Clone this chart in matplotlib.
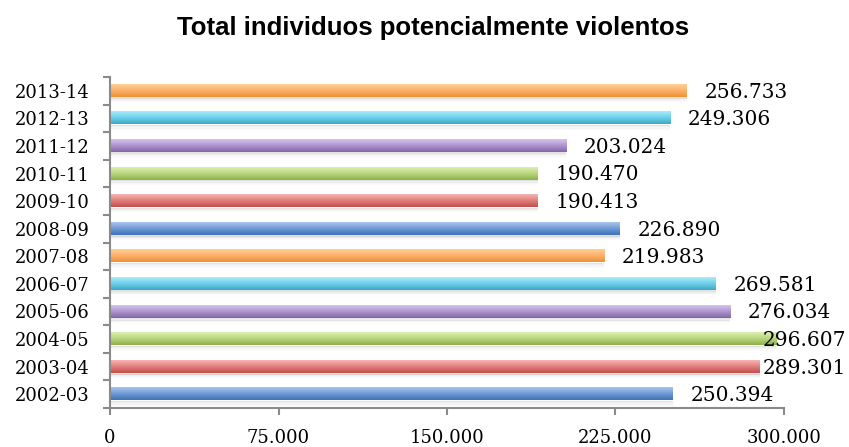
import numpy as np
import matplotlib
matplotlib.use("Agg")
import matplotlib.pyplot as plt
from matplotlib.colors import LinearSegmentedColormap
from matplotlib.ticker import FuncFormatter, FixedLocator

seasons = ["2002-03", "2003-04", "2004-05", "2005-06", "2006-07", "2007-08",
           "2008-09", "2009-10", "2010-11", "2011-12", "2012-13", "2013-14"]
totals = [250394, 289301, 296607, 276034, 269581, 219983,
          226890, 190413, 190470, 203024, 249306, 256733]

# top / middle / bottom shades per bar (Excel-like gradient), cycling
shades = [
    ("#aac6ef", "#6f9ad6", "#3f72b6"),  # blue
    ("#f6b5b3", "#e07f7c", "#c24e4b"),  # red
    ("#dcefb0", "#b8d67c", "#8fb04c"),  # green
    ("#d6c4ec", "#ad95cf", "#8466a8"),  # purple
    ("#a8ecfb", "#6fd0ea", "#3aa9c6"),  # cyan
    ("#ffcf98", "#fbb169", "#f28f36"),  # orange
]

fig = plt.figure(figsize=(8.49, 4.47), dpi=100)
ax = fig.add_axes([0.1296, 0.0872, 0.7938, 0.7405])

bar_h = 0.44
grad = np.linspace(0, 1, 64).reshape(-1, 1)
for i, (v, lab) in enumerate(zip(totals, seasons)):
    top, mid, bot = shades[i % len(shades)]
    cmap = LinearSegmentedColormap.from_list("b%d" % i, [top, mid, bot])
    # soft shadow below the bar
    for k, a in enumerate([0.20, 0.13, 0.07, 0.03]):
        ax.barh(i - bar_h / 2 - 0.04 - k * 0.045, v, height=0.05, left=0,
                color="#777777", alpha=a, lw=0, zorder=1)
    ax.imshow(grad, cmap=cmap, aspect="auto", interpolation="bilinear",
              extent=(0, v, i - bar_h / 2, i + bar_h / 2), zorder=2)
    x_lab = min(v + 8000, 290500)
    ax.text(x_lab, i - 0.05, f"{v:,.0f}".replace(",", "."), ha="left",
            va="center", family="DejaVu Serif", fontsize=14.5, zorder=3)

ax.set_xlim(0, 300000)
ax.set_ylim(-0.5, len(seasons) - 0.5)

ax.set_xticks([0, 75000, 150000, 225000, 300000])
ax.xaxis.set_major_formatter(FuncFormatter(lambda x, p: f"{x:,.0f}".replace(",", ".")))
ax.set_yticks(range(len(seasons)))
ax.set_yticklabels(seasons)
ax.yaxis.set_minor_locator(FixedLocator(np.arange(-0.5, len(seasons), 1.0)))

for lbl in ax.get_xticklabels() + ax.get_yticklabels():
    lbl.set_family("DejaVu Serif")
    lbl.set_fontsize(13)

ax.tick_params(axis="y", which="major", length=0, pad=15)
ax.tick_params(axis="y", which="minor", length=5, width=1.5, color="#8a8a8a")
ax.tick_params(axis="x", which="major", length=5, width=1.5, color="#8a8a8a", pad=10)

for s in ["top", "right"]:
    ax.spines[s].set_visible(False)
for s in ["left", "bottom"]:
    ax.spines[s].set_color("#8a8a8a")
    ax.spines[s].set_linewidth(1.5)

fig.text(0.51, 0.937, "Total individuos potencialmente violentos",
         ha="center", va="center", family="Liberation Sans",
         fontweight="bold", fontsize=18.5)

fig.savefig("out.png", dpi=100)
